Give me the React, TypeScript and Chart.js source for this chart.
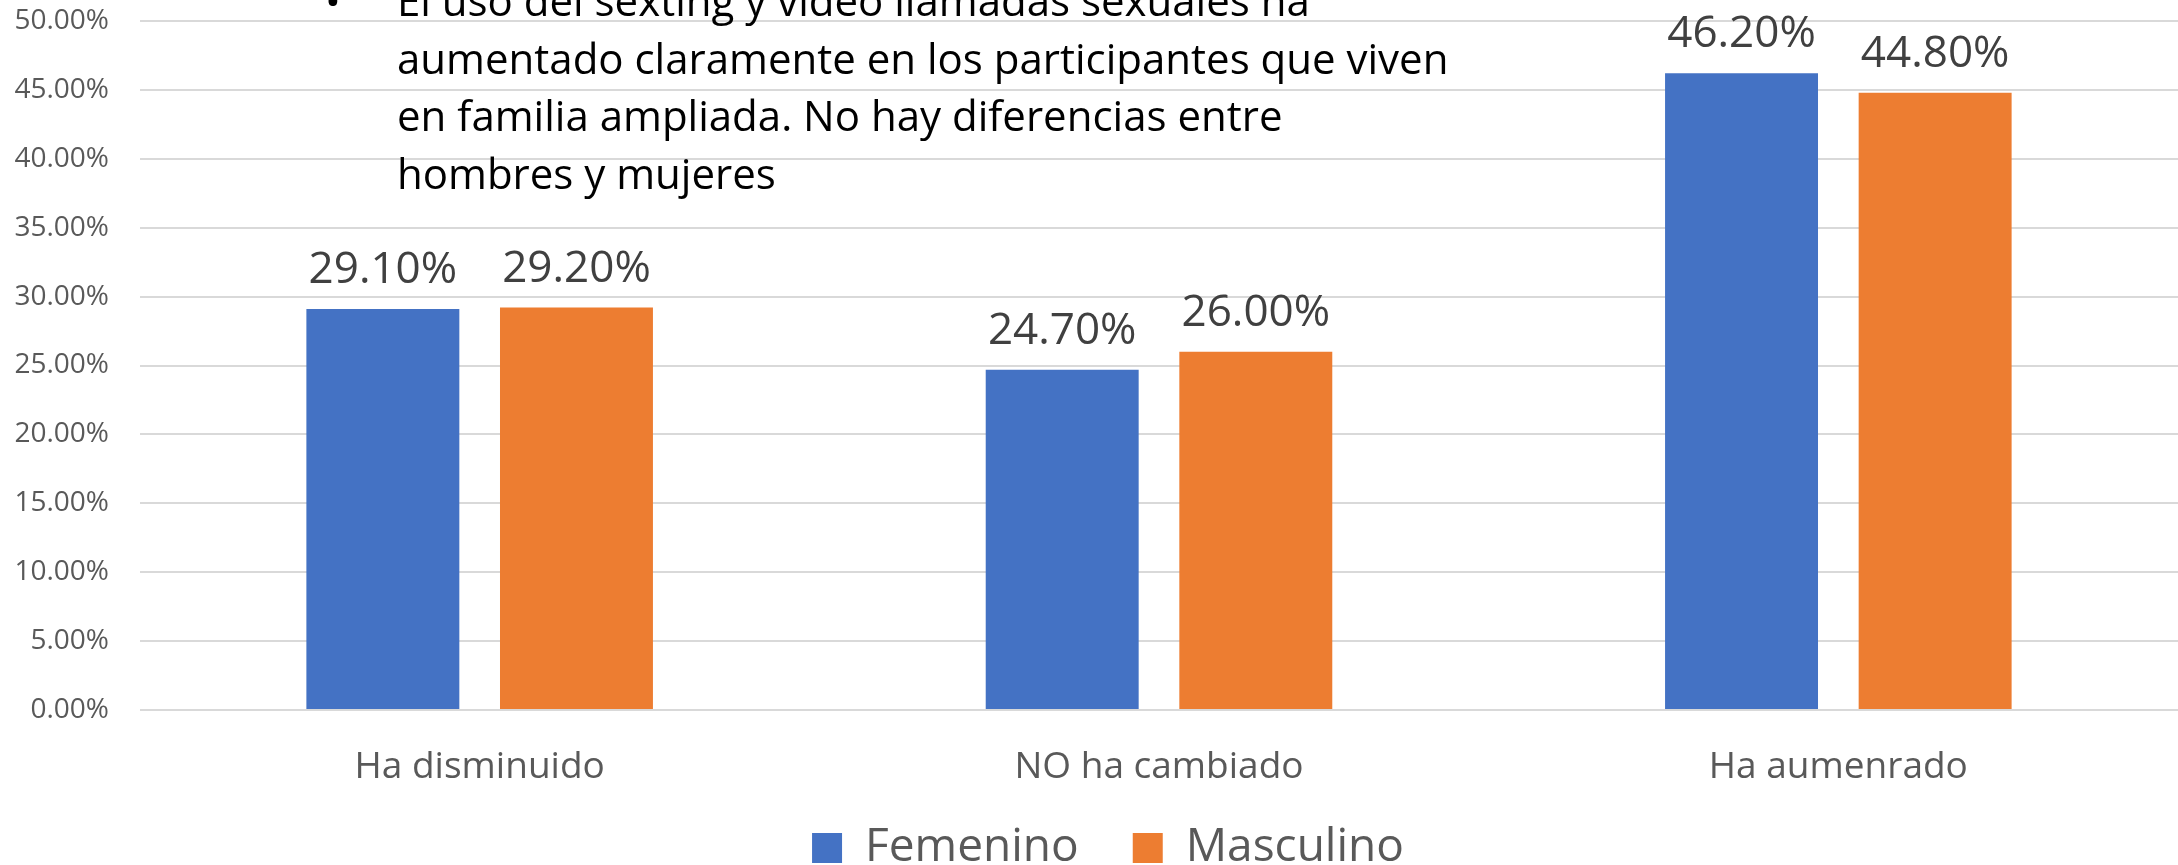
import React, { useEffect, useRef } from "react";
import { Chart, registerables } from "chart.js";

Chart.register(...registerables);

const categories = ["Ha disminuido", "NO ha cambiado", "Ha aumenrado"];
const seriesNames = ["Femenino", "Masculino"];
const femenino = [29.1, 24.7, 46.2];
const masculino = [29.2, 26.0, 44.8];
const seriesColors = ["#4472C4", "#ED7D31"];
const yMin = 0;
const yMax = 50;
const yStep = 5;
const noteLines = [
  "El uso del sexting y video llamadas sexuales ha",
  "aumentado claramente en los participantes que viven",
  "en familia ampliada. No hay diferencias entre",
  "hombres y mujeres",
];

const FONT = '"Open Sans", "Noto Sans", sans-serif';

const valueLabels = {
  id: "valueLabels",
  afterDatasetsDraw(chart: any) {
    const ctx = chart.ctx;
    ctx.save();
    ctx.font = `44px ${FONT}`;
    ctx.fillStyle = "#404040";
    ctx.textAlign = "center";
    ctx.textBaseline = "alphabetic";
    chart.data.datasets.forEach((ds: any, i: number) => {
      const meta = chart.getDatasetMeta(i);
      meta.data.forEach((bar: any, j: number) => {
        ctx.fillText(Number(ds.data[j]).toFixed(2) + "%", bar.x, bar.y - 26);
      });
    });
    ctx.restore();
  },
};

const legendShift = {
  id: "legendShift",
  beforeDraw(chart: any) {
    if (chart.legend) {
      chart.legend.left = 38;
      chart.legend.top -= 34;
    }
  },
};

export default function App() {
  const canvasRef = useRef<HTMLCanvasElement | null>(null);

  useEffect(() => {
    document.body.style.margin = "0";
    document.body.style.overflow = "hidden";
    document.documentElement.style.overflow = "hidden";
    const canvas = canvasRef.current;
    if (!canvas) return;
    const chart = new Chart(canvas, {
      type: "bar",
      data: {
        labels: categories,
        datasets: [
          {
            label: seriesNames[0],
            data: femenino,
            backgroundColor: seriesColors[0],
            categoryPercentage: 0.57,
            barPercentage: 0.79,
          },
          {
            label: seriesNames[1],
            data: masculino,
            backgroundColor: seriesColors[1],
            categoryPercentage: 0.57,
            barPercentage: 0.79,
          },
        ],
      },
      options: {
        animation: false,
        responsive: false,
        maintainAspectRatio: false,
        layout: { padding: { top: 21, right: 0, left: 0, bottom: 0 } },
        plugins: {
          legend: {
            position: "bottom",
            labels: {
              font: { family: FONT, size: 46 },
              color: "#595959",
              boxWidth: 30,
              boxHeight: 30,
              padding: 54,
            },
          },
          tooltip: { enabled: false },
          title: { display: false },
        },
        scales: {
          x: {
            grid: { display: false, drawTicks: false },
            border: { display: false },
            afterFit: (scale: any) => {
              scale.height = 95;
            },
            ticks: {
              font: { family: FONT, size: 37 },
              color: "#595959",
              padding: 35,
            },
          },
          y: {
            min: yMin,
            max: yMax,
            grid: { color: "#d9d9d9", lineWidth: 2, drawTicks: false },
            border: { display: false },
            afterFit: (scale: any) => {
              scale.width = 140;
              scale.paddingTop = 0;
              scale.paddingBottom = 0;
            },
            ticks: {
              stepSize: yStep,
              font: { family: FONT, size: 28 },
              color: "#595959",
              padding: 31,
              callback: (v: any) => Number(v).toFixed(2) + "%",
            },
          },
        },
      },
      plugins: [valueLabels, legendShift],
    });
    return () => chart.destroy();
  }, []);

  return (
    <div
      style={{
        position: "relative",
        width: 2178,
        height: 865,
        overflow: "hidden",
        background: "#fff",
      }}
    >
      <canvas
        ref={canvasRef}
        width={2178}
        height={915}
        style={{ position: "absolute", left: 0, top: 0, width: 2178, height: 915 }}
      />
      <div
        style={{
          position: "absolute",
          left: 397,
          top: -29,
          fontFamily: FONT,
          fontSize: 42,
          lineHeight: "57.5px",
          color: "#000",
          whiteSpace: "pre",
        }}
      >
        <span style={{ position: "absolute", left: -72, top: 0 }}>•</span>
        {noteLines.map((l, i) => (
          <div key={i}>{l}</div>
        ))}
      </div>
    </div>
  );
}
